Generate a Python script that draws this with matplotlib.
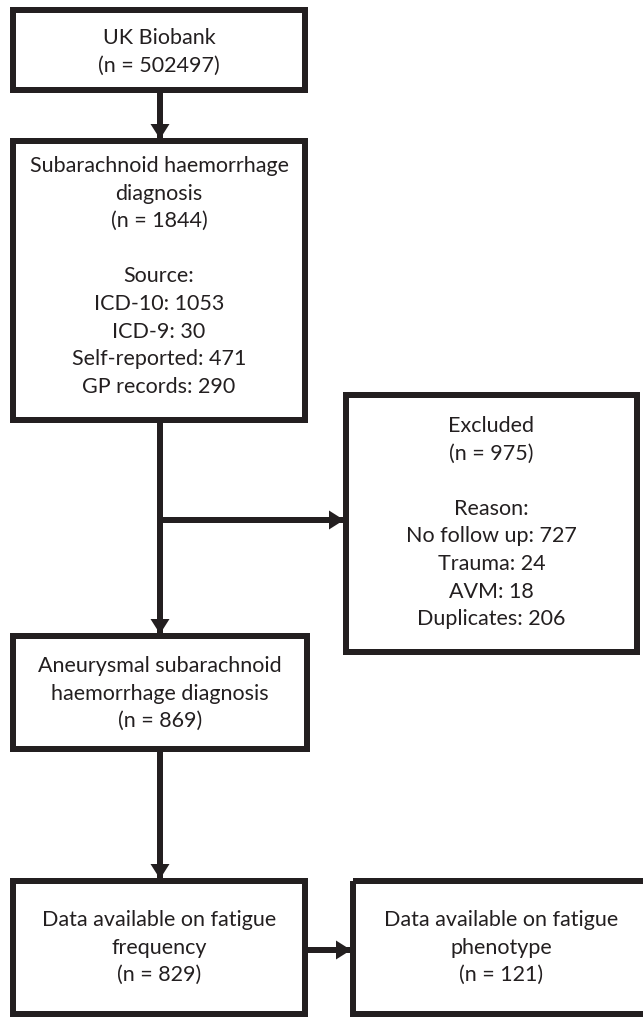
import matplotlib
matplotlib.use("Agg")
import matplotlib.pyplot as plt
from matplotlib.patches import Rectangle, Polygon

plt.rcParams['font.family'] = ['Lato', 'DejaVu Sans']

# ---- data ----
box_texts = [
    ["UK Biobank", "(n = 502497)"],
    ["Subarachnoid haemorrhage", "diagnosis", "(n = 1844)", "", "Source:",
     "ICD-10: 1053", "ICD-9: 30", "Self-reported: 471", "GP records: 290"],
    ["Excluded", "(n = 975)", "", "Reason:", "No follow up: 727",
     "Trauma: 24", "AVM: 18", "Duplicates: 206"],
    ["Aneurysmal subarachnoid", "haemorrhage diagnosis", "(n = 869)"],
    ["Data available on fatigue", "frequency", "(n = 829)"],
    ["Data available on fatigue", "phenotype", "(n = 121)"],
]
# box frames (x0, y0, x1, y1) in pixel units of the figure (centre of border line)
box_frames = [
    (13, 10, 305, 90),
    (13, 141, 305, 420),
    (346, 395, 637, 652),
    (13, 636, 307, 749),
    (13, 881, 305, 1014),
    (353, 881, 650, 1014),
]
text_first_y = [38, 166, 426, 666, 920, 920]
line_step = 27.6

W, H = 643, 1017
fig = plt.figure(figsize=(W / 100, H / 100), dpi=100)
ax = fig.add_axes([0, 0, 1, 1])
ax.set_xlim(0, W)
ax.set_ylim(H, 0)
ax.axis('off')

col = '#231f20'
lw = 6 * 72 / 100

for (x0, y0, x1, y1), lines, ty in zip(box_frames, box_texts, text_first_y):
    ax.add_patch(Rectangle((x0, y0), x1 - x0, y1 - y0, fill=False,
                           edgecolor=col, linewidth=lw, joinstyle='miter'))
    cx = (x0 + x1) / 2
    if x1 > W:
        cx = 501
    for i, t in enumerate(lines):
        if t:
            ax.text(cx, ty + i * line_step, t, ha='center', va='center',
                    fontsize=15.5, color='#231f20')


def arrow(xs, ys, direction):
    ax.plot(xs, ys, color=col, linewidth=lw, solid_capstyle='butt')
    tx, ty = xs[-1], ys[-1]
    hw, hl = 9.5, 15
    if direction == 'down':
        pts = [(tx - hw, ty - hl), (tx + hw, ty - hl), (tx, ty)]
    else:
        pts = [(tx - hl, ty - hw), (tx - hl, ty + hw), (tx, ty)]
    ax.add_patch(Polygon(pts, closed=True, facecolor=col, edgecolor='none'))


arrow([160, 160], [90, 139], 'down')
arrow([160, 160], [420, 634], 'down')
arrow([160, 344], [520, 520], 'right')
arrow([160, 160], [749, 879], 'down')
arrow([305, 351], [950, 950], 'right')

fig.savefig('out.png', dpi=100, facecolor='white')
